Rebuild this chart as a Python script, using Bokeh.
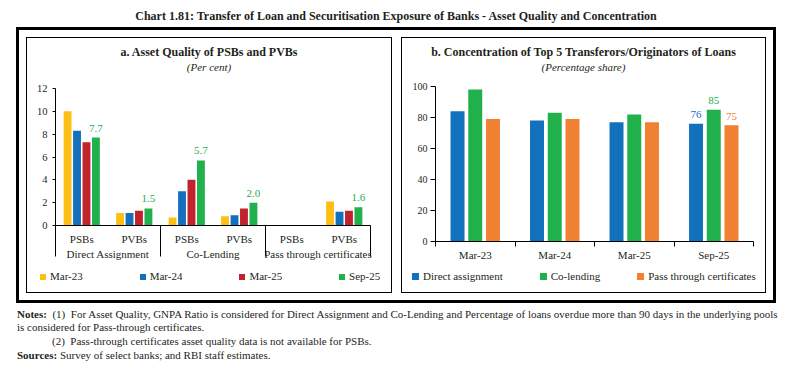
import numpy as np
from bokeh.plotting import figure
from bokeh.models import (ColumnDataSource, Range1d, LinearAxis, FixedTicker, LabelSet, Div)
from bokeh.layouts import column, row
from bokeh.embed import file_html
from bokeh.resources import INLINE

FONT = "Liberation Serif"
TXT = "#231f20"

# ---------------- Panel a data ----------------
groups_a = ["Direct Assignment", "Co-Lending", "Pass through certificates"]
banks_a = ["PSBs", "PVBs"]
periods_a = ["Mar-23", "Mar-24", "Mar-25", "Sep-25"]
mar23_a = [10.0, 1.1, 0.7, 0.8, None, 2.1]
mar24_a = [8.3, 1.1, 3.0, 0.9, None, 1.2]
mar25_a = [7.3, 1.3, 4.0, 1.5, None, 1.3]
sep25_a = [7.7, 1.5, 5.7, 2.0, None, 1.6]
colors_a = ["#FDBE16", "#1370BD", "#C1222B", "#21B14C"]
yticks_a = [0, 2, 4, 6, 8, 10, 12]

# ---------------- Panel b data ----------------
periods_b = ["Mar-23", "Mar-24", "Mar-25", "Sep-25"]
direct_b = [84, 78, 77, 76]
colend_b = [98, 83, 82, 85]
ptc_b = [79, 79, 77, 75]
series_b = ["Direct assignment", "Co-lending", "Pass through certificates"]
colors_b = ["#1370BD", "#21B14C", "#F08132"]
yticks_b = [0, 20, 40, 60, 80, 100]


def style_fig(p):
    p.outline_line_color = None
    p.background_fill_color = "white"
    p.border_fill_color = "white"
    p.grid.visible = False


def title_div(main, sub, w, h):
    html = ('<div style="width:%dpx;height:%dpx;text-align:center;color:%s;white-space:nowrap;'
            'font-family:\'Liberation Serif\';padding-top:7px;box-sizing:border-box;">'
            '<div style="font-size:12px;font-weight:bold;line-height:15px;">%s</div>'
            '<div style="font-size:11px;font-style:italic;line-height:15px;">%s</div></div>'
            % (w, h, TXT, main, sub))
    return Div(text=html, width=w, height=h, margin=0)


def legend_div(labels, colors, w, h, pad_left, pad_top, sq, item_width=None, gap=0):
    items = []
    for lab, col in zip(labels, colors):
        wcss = ("width:%.1fpx;" % item_width) if item_width else ("margin-right:%dpx;" % gap)
        items.append('<span style="display:inline-block;%s">'
                     '<span style="display:inline-block;width:%dpx;height:%dpx;background:%s;'
                     'margin-right:4px;vertical-align:baseline;"></span>%s</span>'
                     % (wcss, sq, sq, col, lab))
    html = ('<div style="width:%dpx;height:%dpx;box-sizing:border-box;padding-left:%dpx;'
            'padding-top:%.1fpx;font-family:\'Liberation Serif\';font-size:11px;line-height:14px;'
            'color:%s;white-space:nowrap;">%s</div>'
            % (w, h, pad_left, pad_top, TXT, "".join(items)))
    return Div(text=html, width=w, height=h, margin=0)


# ================= Panel a =================
subcats = [(g, b) for g in groups_a for b in banks_a]
n_a = len(subcats)
xc_a = np.arange(n_a) + 0.5
pa = figure(width=364, height=182, x_range=Range1d(0, n_a), y_range=Range1d(0, yticks_a[-1]),
            output_backend="svg", toolbar_location=None, title=None,
            x_axis_location=None, y_axis_location=None,
            min_border_left=28, min_border_right=21, min_border_top=8, min_border_bottom=37)
style_fig(pa)

series_a = [mar23_a, mar24_a, mar25_a, sep25_a]
offs_a = [-0.27, -0.09, 0.09, 0.27]
for vals, col, off in zip(series_a, colors_a, offs_a):
    src = ColumnDataSource(dict(x=xc_a + off, top=np.array(vals, dtype=float)))
    pa.vbar(x="x", top="top", width=0.15, bottom=0, source=src,
            fill_color=col, line_color=None)

sep = np.array(sep25_a, dtype=float)
mask = ~np.isnan(sep)
lab_src_a = ColumnDataSource(dict(x=(xc_a + offs_a[3])[mask], y=sep[mask],
                                  t=["{:.1f}".format(v) for v in sep[mask]]))
pa.add_layout(LabelSet(x="x", y="y", text="t", source=lab_src_a, y_offset=6,
                       text_align="center", text_baseline="alphabetic",
                       text_font=FONT, text_font_size="11px", text_color=colors_a[3]))

ya = LinearAxis(ticker=FixedTicker(ticks=yticks_a, minor_ticks=[]))
ya.major_tick_out = 3
ya.major_tick_in = 0
ya.major_label_standoff = 5
ya.major_label_text_font_size = "10.5px"
pa.add_layout(ya, "left")

xa1 = LinearAxis(ticker=FixedTicker(ticks=list(xc_a), minor_ticks=list(range(0, n_a + 1, 2))),
                 major_label_overrides={float(x): b for x, (g, b) in zip(xc_a, subcats)})
xa1.major_tick_out = 0
xa1.major_tick_in = 0
xa1.minor_tick_out = 31
xa1.minor_tick_in = 0
xa1.major_label_standoff = -24
xa1.major_label_text_font_size = "11px"
pa.add_layout(xa1, "below")

gc = [2 * i + 1 for i in range(len(groups_a))]
xa2 = LinearAxis(ticker=FixedTicker(ticks=gc, minor_ticks=[]),
                 major_label_overrides={c: g for c, g in zip(gc, groups_a)})
xa2.major_tick_out = 0
xa2.major_tick_in = 0
xa2.major_label_standoff = 0
xa2.major_label_text_font_size = "11px"
pa.add_layout(xa2, "below")

for ax in (ya, xa1, xa2):
    ax.major_label_text_font = FONT
    ax.major_label_text_color = TXT
    ax.axis_line_color = "black" if ax is not xa2 else None
    ax.major_tick_line_color = "black" if ax is not xa2 else None
    ax.minor_tick_line_color = "black" if ax is xa1 else None

# ================= Panel b =================
n_b = len(periods_b)
xc_b = np.arange(n_b) + 0.5
pb = figure(width=363, height=185, x_range=Range1d(0, n_b), y_range=Range1d(0, yticks_b[-1]),
            output_backend="svg", toolbar_location=None, title=None,
            x_axis_location=None, y_axis_location=None,
            min_border_left=33, min_border_right=12, min_border_top=8, min_border_bottom=22)
style_fig(pb)

series_vals_b = [direct_b, colend_b, ptc_b]
offs_b = [-0.223, 0.0, 0.223]
for vals, col, off in zip(series_vals_b, colors_b, offs_b):
    src = ColumnDataSource(dict(x=xc_b + off, top=np.array(vals, dtype=float)))
    pb.vbar(x="x", top="top", width=0.176, bottom=0, source=src,
            fill_color=col, line_color=None)
    pb.add_layout(LabelSet(x="x", y="y", text="t", y_offset=5.5, text_align="center",
                           text_baseline="alphabetic", text_font=FONT, text_font_size="11px",
                           text_color=col,
                           source=ColumnDataSource(dict(x=[xc_b[-1] + off], y=[vals[-1]],
                                                        t=[str(vals[-1])]))))

yb = LinearAxis(ticker=FixedTicker(ticks=yticks_b, minor_ticks=[]))
yb.major_tick_out = 5
yb.major_tick_in = 0
yb.major_label_standoff = 3
yb.major_label_text_font_size = "10px"
pb.add_layout(yb, "left")

xb = LinearAxis(ticker=FixedTicker(ticks=list(xc_b), minor_ticks=list(range(0, n_b + 1))),
                major_label_overrides={float(x): s for x, s in zip(xc_b, periods_b)})
xb.major_tick_out = 0
xb.major_tick_in = 0
xb.minor_tick_out = 5
xb.minor_tick_in = 0
xb.major_label_standoff = 2
xb.major_label_text_font_size = "11px"
pb.add_layout(xb, "below")
for ax in (yb, xb):
    ax.major_label_text_font = FONT
    ax.major_label_text_color = TXT
    ax.axis_line_color = "black"
    ax.major_tick_line_color = "black"
    ax.minor_tick_line_color = "black"

# ================= Page layout =================
chart_title = Div(text=('<div style="width:792px;height:27px;box-sizing:border-box;padding-top:10px;'
                        'font-family:\'Liberation Serif\';font-size:12px;font-weight:bold;'
                        'color:#231f20;text-align:center;line-height:12px;white-space:nowrap;">'
                        'Chart 1.81: Transfer of Loan and Securitisation Exposure of Banks - '
                        'Asset Quality and Concentration</div>'),
                  width=792, height=27, margin=0)

box_a = column(title_div("a. Asset Quality of PSBs and PVBs", "(Per cent)", 364, 42), pa,
               legend_div(periods_a, colors_a, 364, 30, 13, 7.3, 6, item_width=99.7),
               spacing=0, styles={"border": "1px solid black"})
box_b = column(title_div("b. Concentration of Top 5 Transferors/Originators of Loans",
                         "(Percentage share)", 363, 40), pb,
               legend_div(series_b, colors_b, 363, 29, 10, 6.3, 7, gap=37),
               spacing=0, styles={"border": "1px solid black"})
panels = row(box_a, box_b, spacing=9,
             styles={"border": "3px solid black", "padding": "7px", "background": "white",
                     "transform": "translateX(16px)"})

notes_html = (
    '<div style="width:792px;height:60px;box-sizing:border-box;font-family:\'Liberation Serif\';'
    'font-size:11px;line-height:13.7px;color:#231f20;white-space:nowrap;padding-top:4.7px;'
    'padding-left:17px;">'
    '<b>Notes:</b>&nbsp;&nbsp;(1)&nbsp;&nbsp;For Asset Quality, GNPA Ratio is considered for Direct '
    'Assignment and Co-Lending and Percentage of loans overdue more than 90 days in the underlying pools<br>'
    'is considered for Pass-through certificates.<br>'
    '<span style="display:inline-block;width:35px"></span>(2)&nbsp;&nbsp;Pass-through certificates '
    'asset quality data is not available for PSBs.<br>'
    '<b>Sources:</b> Survey of select banks; and RBI staff estimates.</div>')
notes_div = Div(text=notes_html, width=792, height=60, margin=0)

layout = column(chart_title, panels, notes_div, spacing=0)

html = file_html(layout, INLINE, title="Chart 1.81")
with open("out.html", "w") as f:
    f.write(html)
